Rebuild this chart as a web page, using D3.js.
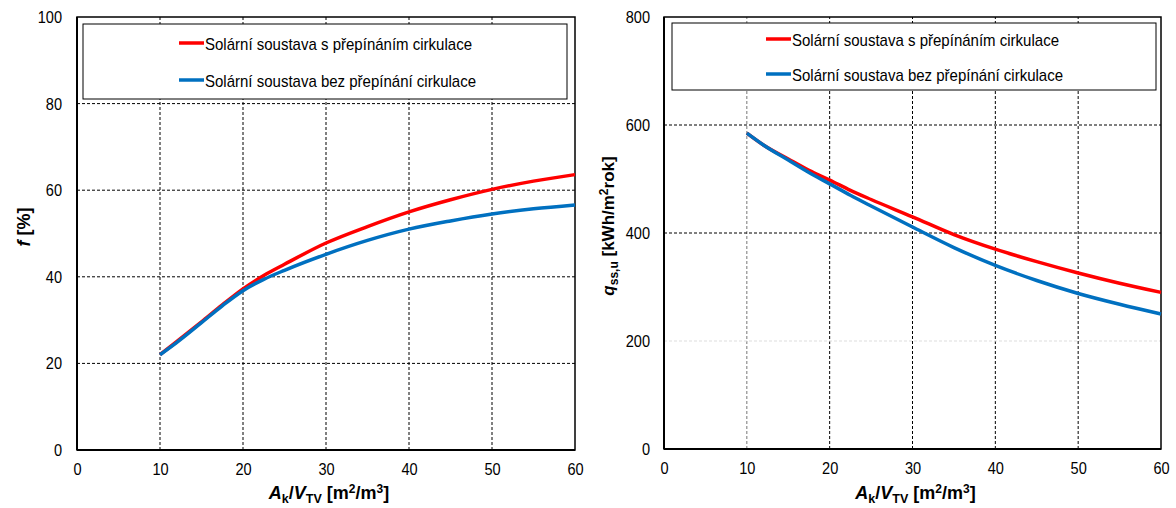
<!DOCTYPE html>
<html><head><meta charset="utf-8">
<script src="https://cdn.jsdelivr.net/npm/d3@7"></script>
<style>
body{margin:0;background:#fff;}
svg{display:block;}
text{font-family:"Liberation Sans",Arial,sans-serif;fill:#000;}
</style></head><body>
<svg id="c" width="1176" height="508"></svg>
<script>
const xVals = [10, 12, 15, 17.5, 20, 22.5, 25, 30, 35, 40, 45, 50, 55, 60];
const fRed  = [22, 25, 29.6, 33.5, 37.2, 40.3, 42.9, 47.8, 51.6, 55.0, 57.8, 60.2, 62.1, 63.6];
const fBlue = [22, 24.8, 29.4, 33.3, 36.8, 39.4, 41.5, 45.2, 48.4, 51.0, 52.9, 54.5, 55.7, 56.6];
const qRed  = [585, 563, 537, 516, 498, 479, 462, 430, 397, 370, 347, 326, 307, 290];
const qBlue = [585, 563, 535, 512, 491, 470, 450, 411, 373, 340, 312, 288, 268, 250];
const xTicks = [0, 10, 20, 30, 40, 50, 60];
const fTicks = [0, 20, 40, 60, 80, 100];
const qTicks = [0, 200, 400, 600, 800];
const legendLabels = ["Solární soustava s přepínáním cirkulace", "Solární soustava bez přepínání cirkulace"];
const colors = ["#ff0000", "#0070c0"];

const svg = d3.select("#c");
svg.append("rect").attr("width",1176).attr("height",508).attr("fill","#fff");

function narrow(sel){
  sel.attr("font-size",17).attr("font-family",null)
    .attr("textLength",function(){return this.textContent.length*8.1;})
    .attr("lengthAdjust","spacingAndGlyphs");
}

function panel(o){
  const g = svg.append("g");
  const x = d3.scaleLinear().domain([0,60]).range([o.x0,o.x1]);
  const y = d3.scaleLinear().domain(o.ydom).range([o.y0,o.y1]);
  // grid
  g.selectAll(".gx").data(xTicks.slice(1,-1)).enter().append("line")
    .attr("x1",d=>x(d)).attr("x2",d=>x(d)).attr("y1",o.y0).attr("y2",o.y1)
    .attr("stroke",d=>(o.grayX&&d===10)?"#777":"#000").attr("stroke-width",1).attr("stroke-dasharray","3,2");
  g.selectAll(".gy").data(o.yt.slice(1,-1)).enter().append("line")
    .attr("y1",d=>y(d)).attr("y2",d=>y(d)).attr("x1",o.x0).attr("x2",o.x1)
    .attr("stroke",d=>(o.grayY===d)?"#ddd":"#000").attr("stroke-width",1).attr("stroke-dasharray","3,2");
  // frame
  g.append("rect").attr("x",o.x0).attr("y",o.y1).attr("width",o.x1-o.x0).attr("height",o.y0-o.y1)
    .attr("fill","none").attr("stroke","#000").attr("stroke-width",1.5);
  g.append("line").attr("x1",o.x0).attr("x2",o.x0).attr("y1",o.y1).attr("y2",o.y0).attr("stroke","#000").attr("stroke-width",2);
  g.append("line").attr("x1",o.x0).attr("x2",o.x1).attr("y1",o.y0).attr("y2",o.y0).attr("stroke","#000").attr("stroke-width",2);
  // axes
  const ax = g.append("g").attr("transform",`translate(0,${o.y0})`)
    .call(d3.axisBottom(x).tickValues(xTicks).tickSize(0).tickPadding(13).tickFormat(d3.format("d")));
  ax.select(".domain").remove();
  ax.selectAll("text").call(narrow);
  const ay = g.append("g").attr("transform",`translate(${o.x0},0)`)
    .call(d3.axisLeft(y).tickValues(o.yt).tickSize(0).tickPadding(o.ypad).tickFormat(d3.format("d")));
  ay.select(".domain").remove();
  ay.selectAll("text").call(narrow);
  // lines
  const line = d3.line().x((d,i)=>x(xVals[i])).y(d=>y(d)).curve(d3.curveMonotoneX);
  o.series.forEach((s,i)=>{
    g.append("path").attr("d",line(s)).attr("fill","none").attr("stroke",colors[i])
      .attr("stroke-width",3.5).attr("stroke-linecap","butt");
  });
  // legend
  g.append("rect").attr("x",o.lx0).attr("y",o.ly0).attr("width",o.lx1-o.lx0).attr("height",o.ly1-o.ly0)
    .attr("fill","#fff").attr("stroke","#000").attr("stroke-width",1);
  legendLabels.forEach((t,i)=>{
    const yy = o.legY[i];
    g.append("line").attr("x1",o.legX).attr("x2",o.legX+25).attr("y1",yy).attr("y2",yy)
      .attr("stroke",colors[i]).attr("stroke-width",3.5);
    g.append("text").attr("x",o.legX+26).attr("y",yy+6.5).attr("font-size",17)
      .attr("textLength",i===0?267:271).attr("lengthAdjust","spacingAndGlyphs").text(t);
  });
  // x title
  const xt = g.append("text").attr("x",(o.x0+o.x1)/2+3).attr("y",499).attr("text-anchor","middle")
    .attr("font-size",18).attr("font-weight","bold");
  xt.append("tspan").attr("font-style","italic").text("A");
  xt.append("tspan").attr("font-size",12.5).attr("dy",4).text("k");
  xt.append("tspan").attr("dy",-4).text("/");
  xt.append("tspan").attr("font-style","italic").text("V");
  xt.append("tspan").attr("font-size",12.5).attr("dy",4).text("TV");
  xt.append("tspan").attr("dy",-4).text(" [m");
  xt.append("tspan").attr("font-size",12).attr("dy",-6).text("2");
  xt.append("tspan").attr("dy",6).text("/m");
  xt.append("tspan").attr("font-size",12).attr("dy",-6).text("3");
  xt.append("tspan").attr("dy",6).text("]");
  return g;
}

const gL = panel({x0:77,x1:575,y0:450,y1:17,ydom:[0,100],yt:fTicks,ypad:15,
  series:[fRed,fBlue],lx0:83,lx1:567,ly0:24,ly1:99,legX:179,legY:[43,80]});
const gR = panel({x0:664,x1:1161,y0:449,y1:17,ydom:[0,800],yt:qTicks,ypad:14,grayX:true,grayY:200,
  series:[qRed,qBlue],lx0:672,lx1:1156,ly0:23,ly1:90,legX:766,legY:[39,74]});

// y titles
const yl = gL.append("text").attr("transform","translate(30,227) rotate(-90)").attr("text-anchor","middle")
  .attr("font-size",18).attr("font-weight","bold");
yl.append("tspan").attr("font-style","italic").text("f");
yl.append("tspan").text(" [%]");

const yr = gR.append("text").attr("transform","translate(614,226) rotate(-90)").attr("text-anchor","middle")
  .attr("font-size",17).attr("font-weight","bold");
yr.append("tspan").attr("font-style","italic").text("q");
yr.append("tspan").attr("font-size",12).attr("dy",4).text("ss,u");
yr.append("tspan").attr("dy",-4).text(" [kWh/m");
yr.append("tspan").attr("font-size",12).attr("dy",-6).text("2");
yr.append("tspan").attr("dy",6).text("rok]");
</script></body></html>
